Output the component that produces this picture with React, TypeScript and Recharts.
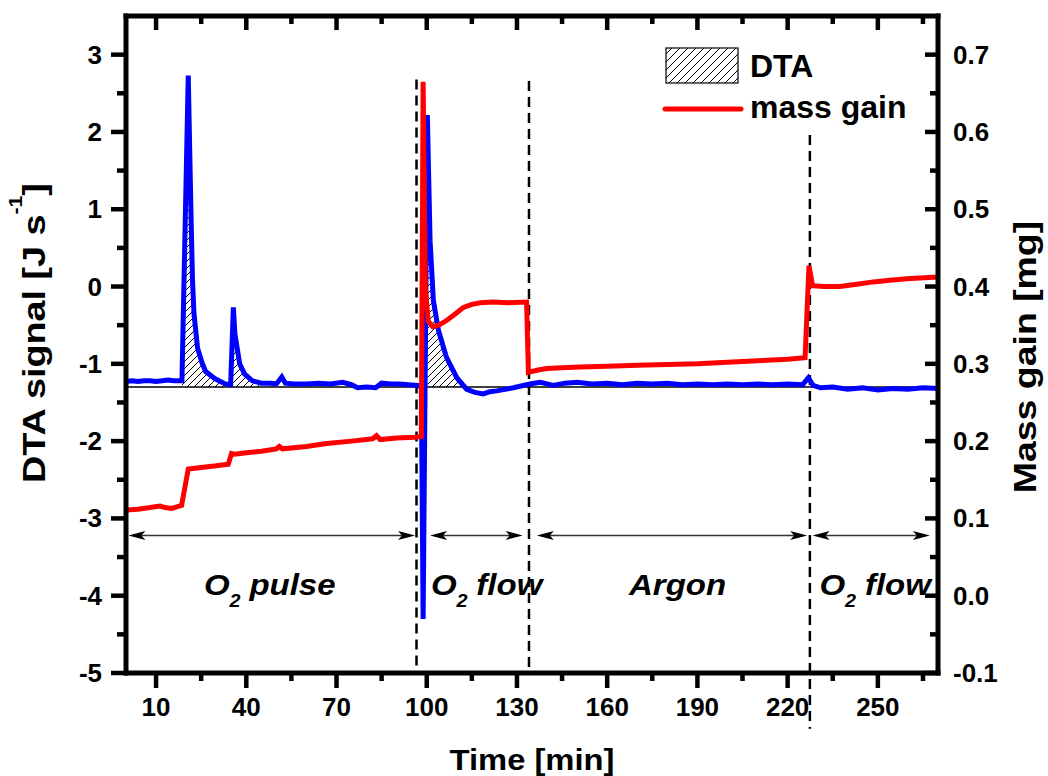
import React from 'react'
import {
  Area,
  ComposedChart,
  Line,
  ReferenceDot,
  ReferenceLine,
  XAxis,
  YAxis,
} from 'recharts'

// DTA trace (left axis)
const dtaTime = [
  0, 2, 4, 6, 8, 10, 12, 14, 16, 18.6,
  20.7, 21.3, 21.8, 22.1, 22.6, 23.8, 25.4, 26.5, 29.5, 33,
  34.8, 35.7, 36.2, 37.8, 39.4, 42, 45, 48, 50, 51.8,
  53, 56, 60, 64, 68, 72, 75, 77, 80, 83,
  85, 88, 91, 94, 97, 98.2, 98.8, 100.2, 101.1, 102.2,
  103.9, 106.6, 110, 113.3, 116, 118.8, 121, 123.3, 126, 128.8,
  131, 134.3, 137.7, 140, 142, 146, 150, 155, 160, 165,
  170, 175, 180, 185, 190, 195, 200, 205, 210, 215,
  220, 225, 226.9, 228.5, 231, 235, 240, 245, 250, 255,
  260, 265, 270,
]
const dtaSignal = [
  -1.23, -1.22, -1.23, -1.22, -1.22, -1.23, -1.22, -1.21, -1.22, -1.22,
  2.73, 1.54, 0.6, 0.1, -0.35, -0.8, -1.0, -1.1, -1.19, -1.26,
  -1.27, -0.27, -0.61, -1.0, -1.13, -1.22, -1.25, -1.25, -1.26, -1.17,
  -1.25, -1.26, -1.26, -1.25, -1.26, -1.24, -1.27, -1.31, -1.3, -1.31,
  -1.25, -1.26, -1.26, -1.27, -1.28, -1.3, -4.3, 2.22, 0.6, -0.18,
  -0.57, -0.92, -1.18, -1.33, -1.37, -1.39, -1.36, -1.35, -1.33, -1.31,
  -1.29, -1.26, -1.24, -1.26, -1.28, -1.25, -1.24, -1.26, -1.25, -1.27,
  -1.25, -1.26, -1.25, -1.27, -1.26, -1.27, -1.26, -1.27, -1.26, -1.27,
  -1.26, -1.27, -1.18, -1.28, -1.31, -1.3, -1.33, -1.31, -1.34, -1.32,
  -1.33, -1.31, -1.32,
]

// mass gain trace (right axis)
const massTime = [
  0, 4, 8, 11.3, 13, 15.2, 18.5, 20.7, 25, 30,
  34, 35.1, 36, 40, 45, 50, 51, 52, 60, 66.7,
  75, 82, 83.3, 84.5, 90, 96, 98.2, 98.8, 99.5, 100.5,
  102, 104, 106.6, 110, 112.2, 115, 117.8, 122, 127, 133.2,
  133.8, 137, 140, 145, 151, 160, 170, 180, 190, 200,
  210, 220, 225.8, 227.1, 228.3, 232, 237.4, 243, 248.5, 254,
  259.6, 264, 268.4, 270,
]
const massGain = [
  0.111, 0.112, 0.114, 0.116, 0.114, 0.113, 0.117, 0.164, 0.166, 0.168,
  0.17, 0.184, 0.183, 0.185, 0.187, 0.19, 0.193, 0.19, 0.193, 0.197,
  0.2, 0.203, 0.207, 0.202, 0.204, 0.205, 0.206, 0.665, 0.4, 0.355,
  0.348, 0.35, 0.356, 0.366, 0.373, 0.377, 0.379, 0.38, 0.379, 0.38,
  0.289, 0.292, 0.294, 0.295, 0.296, 0.297, 0.298, 0.299, 0.3, 0.302,
  0.304, 0.306, 0.308, 0.427, 0.401, 0.4, 0.4, 0.403, 0.406, 0.408,
  0.41, 0.411, 0.412, 0.412,
]

const timeTicks = [10, 40, 70, 100, 130, 160, 190, 220, 250]
const timeMinorTicks = [25, 55, 85, 115, 145, 175, 205, 235, 265]
const dtaTicks = [-5, -4, -3, -2, -1, 0, 1, 2, 3]
const dtaMinorTicks = [-4.5, -3.5, -2.5, -1.5, -0.5, 0.5, 1.5, 2.5]
const massTicks = [-0.1, 0, 0.1, 0.2, 0.3, 0.4, 0.5, 0.6, 0.7]
const massMinorTicks = [-0.05, 0.05, 0.15, 0.25, 0.35, 0.45, 0.55, 0.65]

const dtaBaseline = -1.3
const peakWindows = [[18.6, 45], [100.2, 113.3]]

const dividerTime = [96.6, 134, 227.4]
const dividerTop = [2.68, 2.66, 1.96]
const dividerBottom = [-5, -5, -5.72]

const phaseLabels = ['O2 pulse', 'O2 flow', 'Argon', 'O2 flow']
const phaseLabelTime = [47.8, 119.9, 183.4, 249.1]
const phaseLabelLevel = -3.99
const phaseArrowStart = [0.8, 101.1, 136.6, 228.3]
const phaseArrowEnd = [96.1, 131.9, 226.5, 267.3]
const phaseArrowLevel = -3.22

const FONT = "'Liberation Sans', Arial, Helvetica, sans-serif"
const FRAME = { stroke: '#000', strokeWidth: 5, strokeLinecap: 'square' as const }

const dtaData = dtaTime.map((t, i) => {
  const inPeak = peakWindows.some(([a, b]) => t >= a && t <= b)
  return {
    t,
    dta: dtaSignal[i],
    hatch: inPeak ? Math.max(dtaSignal[i], dtaBaseline) : null,
  }
})
const massData = massTime.map((t, i) => ({ t, mass: massGain[i] }))

const BottomTick = ({ x, y, payload }: any) => {
  const major = timeTicks.includes(payload.value)
  return (
    <g>
      <line x1={x} x2={x} y1={y} y2={y + (major ? 15 : 8)} stroke="#000" strokeWidth={4.5} />
      {major && (
        <text x={x} y={y + 43} textAnchor="middle" fontSize={26} fontWeight="bold" fontFamily={FONT}>
          {payload.value}
        </text>
      )}
    </g>
  )
}

const TopTick = ({ x, y, payload }: any) => {
  const major = timeTicks.includes(payload.value)
  return <line x1={x} x2={x} y1={y} y2={y + (major ? 14 : 8)} stroke="#000" strokeWidth={4.5} />
}

const LeftTick = ({ x, y, payload }: any) => {
  const major = dtaTicks.includes(payload.value)
  return (
    <g>
      <line x1={x - (major ? 15 : 9)} x2={x} y1={y} y2={y} stroke="#000" strokeWidth={4.5} />
      {major && (
        <text x={x - 24} y={y + 9} textAnchor="end" fontSize={26} fontWeight="bold" fontFamily={FONT}>
          {payload.value}
        </text>
      )}
    </g>
  )
}

const RightTick = ({ x, y, payload }: any) => {
  const major = massTicks.includes(payload.value)
  return (
    <g>
      <line x1={x - (major ? 13 : 8)} x2={x} y1={y} y2={y} stroke="#000" strokeWidth={4.5} />
      {major && (
        <text x={x + 15} y={y + 9} textAnchor="start" fontSize={26} fontWeight="bold" fontFamily={FONT}>
          {payload.value.toFixed(1)}
        </text>
      )}
    </g>
  )
}

const DoubleArrow = (p: any) => {
  const { x1, y1, x2, y2 } = p
  const h = 17
  const w = 4.5
  return (
    <g>
      <line x1={x1 + 4} y1={y1} x2={x2 - 4} y2={y2} stroke="#333" strokeWidth={1.5} />
      <polygon points={`${x1},${y1} ${x1 + h},${y1 - w} ${x1 + h - 4},${y1} ${x1 + h},${y1 + w}`} fill="#000" />
      <polygon points={`${x2},${y2} ${x2 - h},${y2 - w} ${x2 - h + 4},${y2} ${x2 - h},${y2 + w}`} fill="#000" />
    </g>
  )
}

const PhaseText = ({ viewBox, text }: any) => {
  const { x, y } = viewBox
  const isO2 = text.startsWith('O2')
  return (
    <text
      transform={`translate(${x},${y}) scale(1.1,1)`}
      textAnchor="middle"
      fontSize={30}
      fontWeight="bold"
      fontStyle="italic"
      fontFamily={FONT}
      fill="#000"
    >
      {isO2 ? (
        <>
          <tspan>O</tspan>
          <tspan fontSize={18} dy={12}>2</tspan>
          <tspan dy={-12} dx={8}>{text.slice(3)}</tspan>
        </>
      ) : (
        text
      )}
    </text>
  )
}

export default function App() {
  return (
    <div style={{ position: 'absolute', left: 0, top: 0, width: 1048, height: 776, background: '#fff' }}>
      <ComposedChart width={1048} height={776} margin={{ top: 0, right: 50, bottom: 43, left: 66 }}>
        <defs>
          <pattern id="hatch" patternUnits="userSpaceOnUse" width={7} height={7}>
            <path d="M0,7 L7,0 M-1,1 L1,-1 M6,8 L8,6" stroke="#000" strokeWidth={1} />
          </pattern>
        </defs>
        <XAxis
          xAxisId="bottom"
          dataKey="t"
          type="number"
          domain={[0, 270]}
          allowDataOverflow
          ticks={[...timeTicks, ...timeMinorTicks]}
          interval={0}
          height={60}
          tickSize={0}
          tickMargin={0}
          tickLine={false}
          stroke="#000"
          strokeWidth={5}
          axisLine={FRAME}
          tick={<BottomTick />}
        />
        <XAxis
          xAxisId="top"
          orientation="top"
          dataKey="t"
          type="number"
          domain={[0, 270]}
          allowDataOverflow
          ticks={[...timeTicks, ...timeMinorTicks]}
          interval={0}
          height={16}
          tickSize={0}
          tickMargin={0}
          tickLine={false}
          stroke="#000"
          strokeWidth={5}
          axisLine={FRAME}
          tick={<TopTick />}
        />
        <YAxis
          yAxisId="dta"
          type="number"
          domain={[-5, 3.5]}
          allowDataOverflow
          ticks={[...dtaTicks, ...dtaMinorTicks]}
          interval={0}
          width={60}
          tickSize={0}
          tickMargin={0}
          tickLine={false}
          stroke="#000"
          strokeWidth={5}
          axisLine={FRAME}
          tick={<LeftTick />}
        />
        <YAxis
          yAxisId="mass"
          orientation="right"
          type="number"
          domain={[-0.1, 0.75]}
          allowDataOverflow
          ticks={[...massTicks, ...massMinorTicks]}
          interval={0}
          width={60}
          tickSize={0}
          tickMargin={0}
          tickLine={false}
          stroke="#000"
          strokeWidth={5}
          axisLine={FRAME}
          tick={<RightTick />}
        />

        <Area
          data={dtaData}
          dataKey="hatch"
          xAxisId="bottom"
          yAxisId="dta"
          type="linear"
          baseValue={dtaBaseline}
          stroke="none"
          fill="url(#hatch)"
          fillOpacity={1}
          connectNulls={false}
          dot={false}
          activeDot={false}
          isAnimationActive={false}
        />
        <ReferenceLine xAxisId="bottom" yAxisId="dta" y={dtaBaseline} stroke="#000" strokeWidth={1.5} />

        {dividerTime.map((t, i) => (
          <ReferenceLine
            key={'div' + i}
            xAxisId="bottom"
            yAxisId="dta"
            segment={[{ x: t, y: dividerTop[i] }, { x: t, y: dividerBottom[i] }]}
            ifOverflow="visible"
            stroke="#000"
            strokeWidth={2.5}
            strokeDasharray="10 6"
          />
        ))}

        {phaseArrowStart.map((t, i) => (
          <ReferenceLine
            key={'arr' + i}
            xAxisId="bottom"
            yAxisId="dta"
            segment={[{ x: t, y: phaseArrowLevel }, { x: phaseArrowEnd[i], y: phaseArrowLevel }]}
            ifOverflow="visible"
            shape={DoubleArrow}
          />
        ))}

        {phaseLabels.map((label, i) => (
          <ReferenceDot
            key={'lab' + i}
            xAxisId="bottom"
            yAxisId="dta"
            x={phaseLabelTime[i]}
            y={phaseLabelLevel}
            r={0}
            fill="none"
            stroke="none"
            label={{ content: (props: any) => <PhaseText {...props} text={label} /> }}
          />
        ))}

        <Line
          data={dtaData}
          dataKey="dta"
          xAxisId="bottom"
          yAxisId="dta"
          type="linear"
          stroke="#0000ff"
          strokeWidth={5}
          dot={false}
          activeDot={false}
          isAnimationActive={false}
        />
        <Line
          data={massData}
          dataKey="mass"
          xAxisId="bottom"
          yAxisId="mass"
          type="linear"
          stroke="#ff0000"
          strokeWidth={5}
          dot={false}
          activeDot={false}
          isAnimationActive={false}
        />
      </ComposedChart>

      <svg
        width={1048}
        height={776}
        style={{ position: 'absolute', left: 0, top: 0, pointerEvents: 'none' }}
        fontFamily={FONT}
        fontWeight="bold"
      >
        <defs>
          <pattern id="hatchLegend" patternUnits="userSpaceOnUse" width={8} height={8}>
            <path d="M0,8 L8,0 M-1,1 L1,-1 M7,9 L9,7" stroke="#000" strokeWidth={1} />
          </pattern>
        </defs>
        {/* legend */}
        <rect x={666} y={48} width={72} height={35} fill="url(#hatchLegend)" stroke="#000" strokeWidth={1.2} />
        <text x={750} y={77} fontSize={32}>DTA</text>
        <line x1={665} x2={741} y1={109} y2={109} stroke="#ff0000" strokeWidth={5} strokeLinecap="round" />
        <text x={750} y={118} fontSize={32}>mass gain</text>

        {/* axis titles */}
        <text transform="translate(532,770) scale(1.13,1)" textAnchor="middle" fontSize={29}>
          Time [min]
        </text>
        <text transform="translate(45,333) rotate(-90) scale(1.18,1)" textAnchor="middle" fontSize={32}>
          DTA signal [J s<tspan fontSize={18} dy={-23}>-1</tspan>
          <tspan dy={23}>]</tspan>
        </text>
        <text transform="translate(1036,357) rotate(-90) scale(1.17,1)" textAnchor="middle" fontSize={32}>
          Mass gain [mg]
        </text>
      </svg>
    </div>
  )
}
